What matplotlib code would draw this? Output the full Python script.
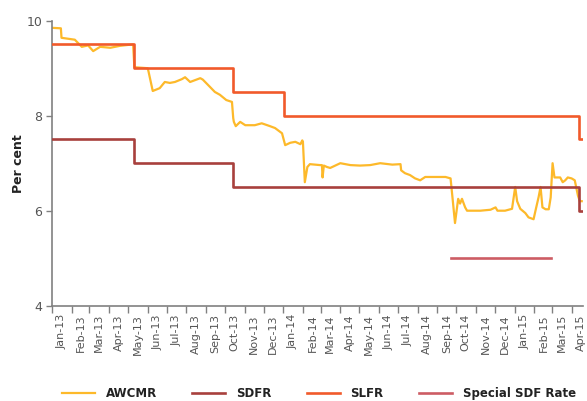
import matplotlib
matplotlib.use("Agg")
import matplotlib.pyplot as plt
import matplotlib.dates as mdates
import pandas as pd

# ---- data ----
awcmr_dates = [
    "2013-01-01", "2013-01-15", "2013-01-16", "2013-02-06", "2013-02-17", "2013-02-27",
    "2013-03-07", "2013-03-18", "2013-04-03", "2013-04-18", "2013-05-01", "2013-05-09",
    "2013-05-11", "2013-06-01", "2013-06-02", "2013-06-09", "2013-06-20", "2013-06-28",
    "2013-07-06", "2013-07-14", "2013-07-25", "2013-07-30", "2013-08-07", "2013-08-15",
    "2013-08-23", "2013-08-27", "2013-09-07", "2013-09-15", "2013-09-23", "2013-10-03",
    "2013-10-12", "2013-10-14", "2013-10-15", "2013-10-18", "2013-10-25", "2013-11-02",
    "2013-11-17", "2013-11-28", "2013-12-11", "2013-12-19", "2013-12-30", "2014-01-04",
    "2014-01-12", "2014-01-20", "2014-01-28", "2014-01-31", "2014-02-01", "2014-02-04",
    "2014-02-08", "2014-02-12", "2014-02-28", "2014-03-03", "2014-03-04", "2014-03-06",
    "2014-03-11", "2014-03-16", "2014-04-01", "2014-04-17", "2014-05-02", "2014-05-18",
    "2014-06-03", "2014-06-22", "2014-07-05", "2014-07-06", "2014-07-12", "2014-07-20",
    "2014-07-28", "2014-08-05", "2014-08-13", "2014-08-21", "2014-09-14", "2014-09-22",
    "2014-09-25", "2014-09-29", "2014-10-04", "2014-10-07", "2014-10-10", "2014-10-15",
    "2014-10-18", "2014-11-08", "2014-11-24", "2014-12-02", "2014-12-05", "2014-12-17",
    "2014-12-28", "2015-01-02", "2015-01-05", "2015-01-10", "2015-01-18", "2015-01-23",
    "2015-01-31", "2015-02-03", "2015-02-08", "2015-02-11", "2015-02-14", "2015-02-19",
    "2015-02-24", "2015-02-27", "2015-03-02", "2015-03-05", "2015-03-14", "2015-03-18",
    "2015-03-22", "2015-03-26", "2015-04-01", "2015-04-06", "2015-04-11", "2015-04-14",
    "2015-04-17",
]
awcmr_values = [
    9.85, 9.84, 9.64, 9.60, 9.45, 9.48,
    9.36, 9.45, 9.43, 9.47, 9.49, 9.50,
    9.02, 9.00, 8.95, 8.52, 8.58, 8.71,
    8.69, 8.71, 8.77, 8.81, 8.71, 8.75,
    8.79, 8.76, 8.61, 8.50, 8.44, 8.33,
    8.29, 7.95, 7.87, 7.78, 7.87, 7.80,
    7.80, 7.84, 7.78, 7.74, 7.63, 7.38,
    7.43, 7.45, 7.40, 7.48, 7.45, 6.60,
    6.92, 6.98, 6.96, 6.96, 6.70, 6.95,
    6.92, 6.90, 7.00, 6.96, 6.95, 6.96,
    7.00, 6.97, 6.98, 6.85, 6.79, 6.75,
    6.68, 6.64, 6.71, 6.71, 6.71, 6.68,
    6.28, 5.74, 6.25, 6.15, 6.25, 6.07,
    6.00, 6.00, 6.02, 6.07, 6.00, 6.00,
    6.04, 6.50, 6.20, 6.04, 5.95, 5.86,
    5.82, 6.00, 6.29, 6.50, 6.07, 6.03,
    6.03, 6.28, 7.00, 6.70, 6.70, 6.60,
    6.64, 6.70, 6.68, 6.64, 6.32, 6.20,
    6.20,
]

policy_dates = ["2013-01-01", "2013-05-10", "2013-10-14", "2014-01-02", "2015-04-13", "2015-04-19"]
sdfr_values = [7.5, 7.0, 6.5, 6.5, 6.0, 6.0]
slfr_values = [9.5, 9.0, 8.5, 8.0, 7.5, 7.5]

special_dates = ["2014-09-23", "2015-02-28"]
special_values = [5.0, 5.0]

x_start, x_end = "2013-01-01", "2015-04-19"
y_ticks = [4, 6, 8, 10]

# ---- plot ----
plt.rcParams["font.family"] = ["DejaVu Sans"]
fig = plt.figure(figsize=(5.87, 4.01), dpi=100)
ax = fig.add_axes([52 / 587, 1 - 305.7 / 401, (583 - 52) / 587, (305.7 - 20.7) / 401])

c_awcmr = "#FDB92A"
c_sdfr = "#A8403D"
c_slfr = "#F15A2B"
c_spec = "#CD5C64"

ax.plot(pd.to_datetime(awcmr_dates), awcmr_values, color=c_awcmr, lw=1.6, label="AWCMR", zorder=2)
ax.step(pd.to_datetime(policy_dates), sdfr_values, where="post", color=c_sdfr, lw=1.9, label="SDFR", zorder=3)
ax.step(pd.to_datetime(policy_dates), slfr_values, where="post", color=c_slfr, lw=1.9, label="SLFR", zorder=3)
ax.plot(pd.to_datetime(special_dates), special_values, color=c_spec, lw=1.9, label="Special SDF Rate", zorder=3)

ax.set_xlim(pd.Timestamp(x_start), pd.Timestamp(x_end))
ax.set_ylim(4, 10)
ax.set_yticks(y_ticks)

ax.xaxis.set_major_locator(mdates.MonthLocator())
ax.xaxis.set_major_formatter(plt.NullFormatter())
ax.xaxis.set_minor_locator(mdates.MonthLocator(bymonthday=16))
ax.xaxis.set_minor_formatter(mdates.DateFormatter("%b-%y"))

grey = "#808080"
for s in ["top", "right"]:
    ax.spines[s].set_visible(False)
for s in ["left", "bottom"]:
    ax.spines[s].set_color(grey)
    ax.spines[s].set_linewidth(1.2)

ax.tick_params(axis="x", which="major", length=5, color=grey, width=1)
ax.tick_params(axis="x", which="minor", length=0, pad=6, labelsize=8, labelcolor="#555555", labelrotation=90)
ax.tick_params(axis="y", length=4, color=grey, width=1, labelsize=9, labelcolor="#555555", pad=3)

ax.set_ylabel("Per cent", fontsize=9, fontweight="bold", color="#222222", labelpad=1)

handles, labels = ax.get_legend_handles_labels()
fig.legend(handles, labels, loc="center", bbox_to_anchor=(0.543, 0.018), ncol=4, frameon=False,
           prop={"weight": "bold", "size": 8.5}, handlelength=2.8, columnspacing=3.0, handletextpad=0.9,
           labelcolor="#222222")

fig.savefig("out.png", dpi=100)
